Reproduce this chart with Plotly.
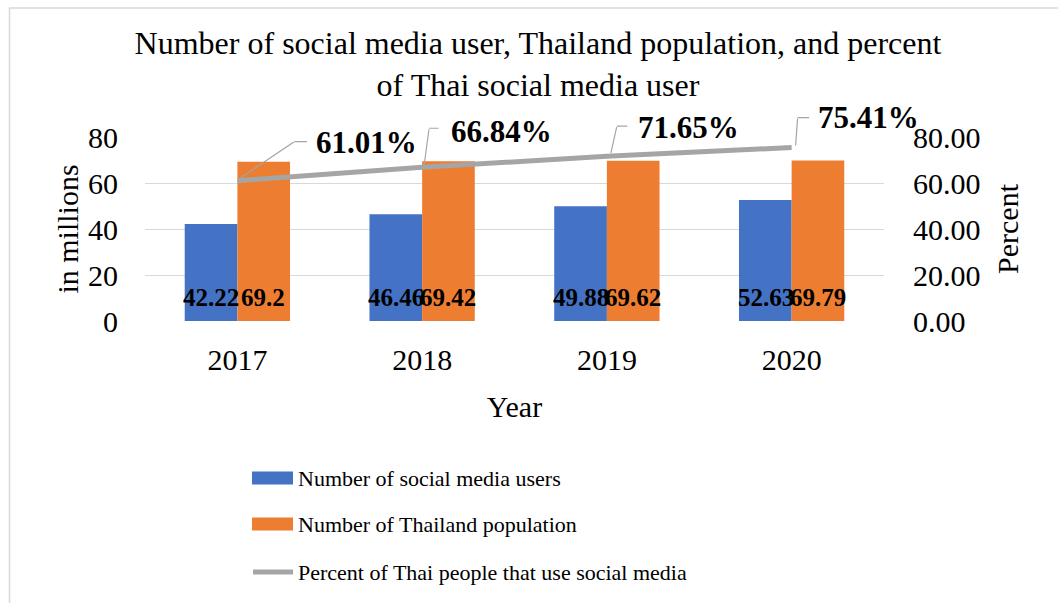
import plotly.graph_objects as go

# ---- data ----
years = ["2017", "2018", "2019", "2020"]
social_users = [42.22, 46.46, 49.88, 52.63]       # millions
population = [69.20, 69.42, 69.62, 69.79]         # millions
percent_users = [61.01, 66.84, 71.65, 75.41]      # percent
y_ticks = [0, 20, 40, 60, 80]

series_names = [
    "Number of social media users",
    "Number of Thailand population",
    "Percent of Thai people that use social media",
]

BLUE = "#4472C4"
ORANGE = "#ED7D31"
GRAY = "#A5A5A5"
GRID = "#D9D9D9"
FONT = "Times New Roman, Liberation Serif, serif"

W, H = 1058, 603
ML, MR, MT, MB = 145, 174, 137, 282
PW, PH = W - ML - MR, H - MT - MB


def px_to_paper(x, y):
    """Convert page pixel position to paper coordinates."""
    return (x - ML) / PW, (H - MB - y) / PH


fig = go.Figure()

fig.add_trace(go.Bar(
    x=years, y=social_users, name=series_names[0],
    marker=dict(color=BLUE, line=dict(width=0)),
))
fig.add_trace(go.Bar(
    x=years, y=population, name=series_names[1],
    marker=dict(color=ORANGE, line=dict(width=0)),
))
fig.add_trace(go.Scatter(
    x=years, y=percent_users, name=series_names[2], yaxis="y2",
    mode="lines", line=dict(color=GRAY, width=5),
))

annotations = []
shapes = []

# value labels at the base of each bar (x given as category index)
bar_half = 26
for i, (a, b) in enumerate(zip(social_users, population)):
    for val, dx in ((a, -bar_half), (b, bar_half)):
        annotations.append(dict(
            x=i, y=0, xref="x", yref="y", xshift=dx, yshift=24,
            text=f"{val:g}", showarrow=False, xanchor="center", yanchor="middle",
            font=dict(family=FONT, size=25, color="black", weight="bold"),
        ))

# percent labels with elbow leader lines
# (pixel offsets from each point: leader start, elbow, end; label left edge / centre)
leaders = [
    ((2, 2), (57, 39), (70, 39)),
    ((2, 2), (7, 39), (17, 39)),
    ((4, 3), (10, 30), (21, 30)),
    ((4, 2), (6, 30), (18, 30)),
]
label_offsets = [(77, 38), (27, 36), (29, 29), (24, 30)]


def leader_segment(i, pct, a, b):
    """Headless arrow from pixel offset a to pixel offset b around a point."""
    return dict(
        x=i, y=pct, xref="x", yref="y2", xshift=a[0], yshift=a[1],
        ax=b[0] - a[0], ay=-(b[1] - a[1]), axref="pixel", ayref="pixel",
        text=" ", font=dict(size=1), borderpad=0,
        showarrow=True, arrowhead=0, arrowwidth=1.2, arrowcolor=GRAY,
        standoff=0, startstandoff=0,
    )


for i, (pct, (p0, p1, p2), (lx, ly)) in enumerate(zip(percent_users, leaders, label_offsets)):
    # the arrow tip sits at the shifted point, its tail at tip + (ax, ay)
    annotations.append(leader_segment(i, pct, p0, p1))
    annotations.append(leader_segment(i, pct, p1, p2))
    annotations.append(dict(
        x=i, y=pct, xref="x", yref="y2", xshift=lx, yshift=ly,
        text=f"{pct:.2f}%", showarrow=False, xanchor="left", yanchor="middle",
        font=dict(family=FONT, size=31, color="black", weight="bold"),
    ))

# legend drawn below the chart
legend_rows = [478, 524, 572]
for i, (name, cy) in enumerate(zip(series_names, legend_rows)):
    if i < 2:
        x0, y0 = px_to_paper(252, cy - 6.5)
        x1, y1 = px_to_paper(293, cy + 6.5)
        shapes.append(dict(type="rect", xref="paper", yref="paper",
                           x0=x0, x1=x1, y0=y0, y1=y1,
                           fillcolor=BLUE if i == 0 else ORANGE, line=dict(width=0)))
    else:
        x0, y0 = px_to_paper(253, cy)
        x1, _ = px_to_paper(293, cy)
        shapes.append(dict(type="line", xref="paper", yref="paper",
                           x0=x0, x1=x1, y0=y0, y1=y0,
                           line=dict(color=GRAY, width=5)))
    tx, ty = px_to_paper(296, cy)
    annotations.append(dict(
        x=tx, y=ty, xref="paper", yref="paper", text=name, showarrow=False,
        xanchor="left", yanchor="middle",
        font=dict(family=FONT, size=22, color="black"),
    ))

# outer frame
fx0, fy0 = px_to_paper(9.5, 8)
fx1, fy1 = px_to_paper(W + 20, H + 20)
shapes.append(dict(type="rect", xref="paper", yref="paper", layer="below",
                   x0=fx0, x1=fx1, y0=fy1, y1=fy0,
                   line=dict(color=GRID, width=1.5), fillcolor="rgba(0,0,0,0)"))

fig.update_layout(
    width=W, height=H,
    margin=dict(l=ML, r=MR, t=MT, b=MB, pad=0),
    paper_bgcolor="white", plot_bgcolor="white",
    font=dict(family=FONT, color="black"),
    barmode="group", bargap=0.43, bargroupgap=0,
    showlegend=False,
    title=dict(
        text="Number of social media user, Thailand population, and percent<br>of Thai social media user",
        x=538 / W, xanchor="center", xref="container",
        y=1 - 54 / H, yanchor="top", yref="container",
        font=dict(family=FONT, size=32, color="black"),
    ),
    xaxis=dict(
        type="category", range=[-0.5, len(years) - 0.5],
        showgrid=False, zeroline=False, showline=False,
        tickfont=dict(size=30), ticks="", ticklabelstandoff=18,
        title=dict(text="Year", font=dict(size=30), standoff=20),
    ),
    yaxis=dict(
        range=[0, 80], tickvals=y_ticks, showgrid=True, gridcolor=GRID, gridwidth=1.3,
        zeroline=False, showline=False, ticks="", ticklabelstandoff=26,
        tickfont=dict(size=30),
        title=dict(text="in millions", font=dict(size=30), standoff=0),
    ),
    yaxis2=dict(
        range=[0, 80], tickvals=y_ticks, tickformat=".2f", overlaying="y", side="right",
        showgrid=False, zeroline=False, showline=False, ticks="", ticklabelstandoff=28,
        tickfont=dict(size=30),
        title=dict(text="Percent", font=dict(size=30), standoff=17),
    ),
    annotations=annotations,
    shapes=shapes,
)

fig.write_html("out.html")
